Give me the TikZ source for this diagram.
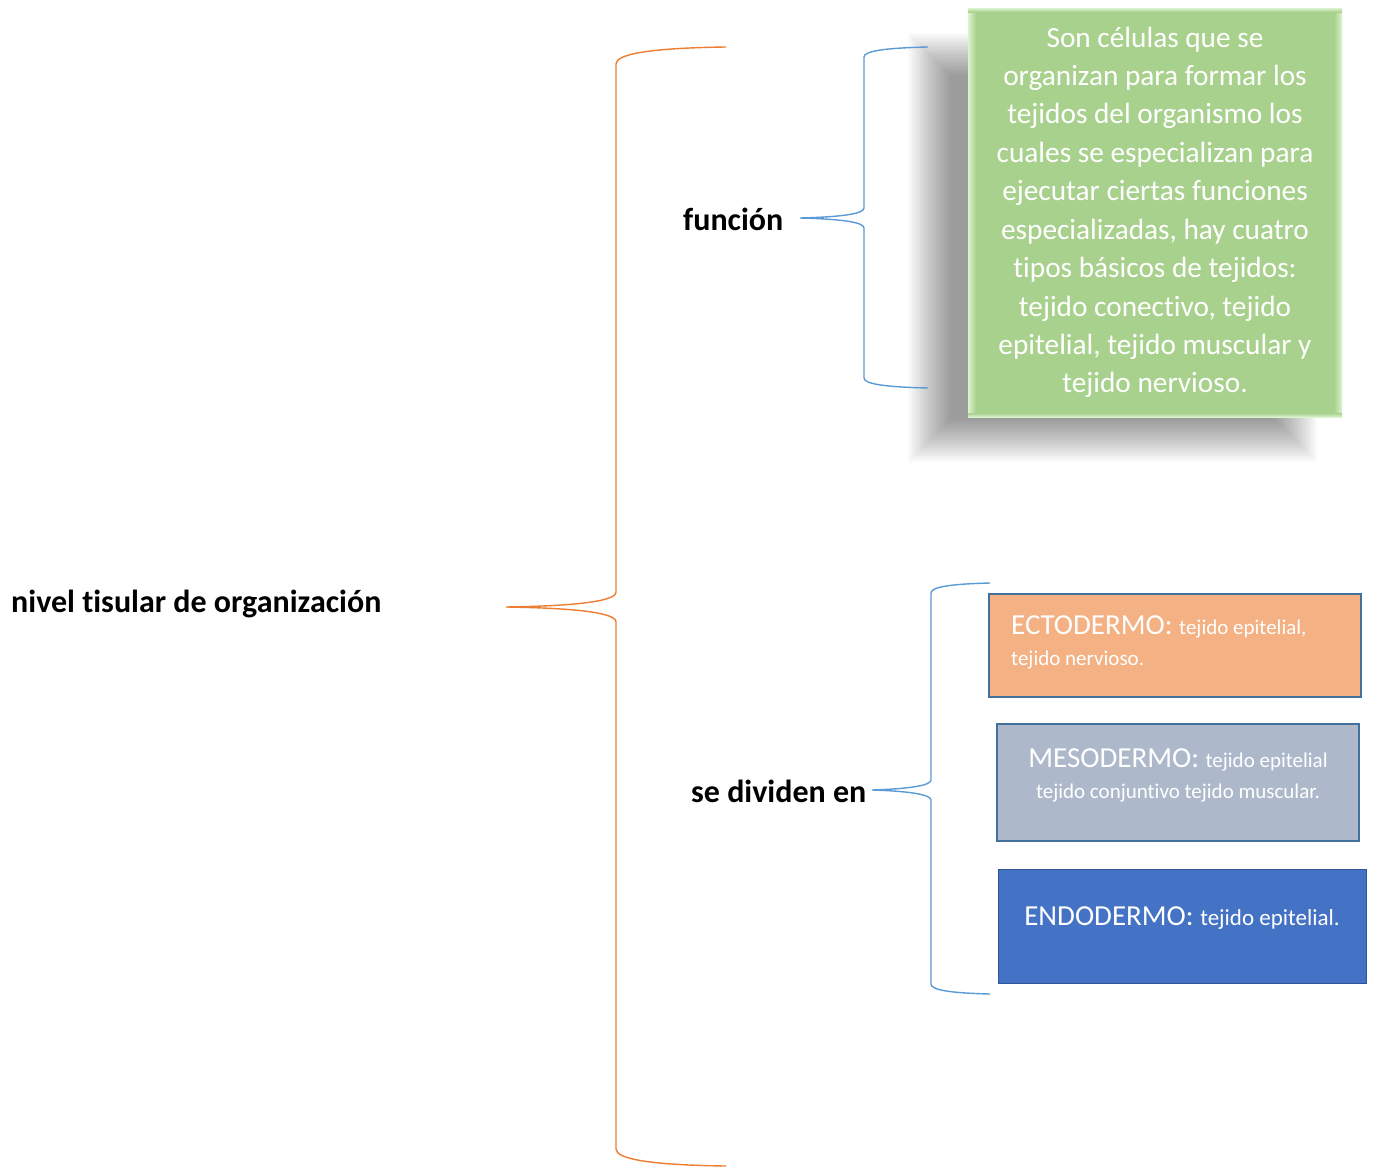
\documentclass[tikz,border=0pt]{standalone}
\usepackage{fontspec}
\setmainfont{Carlito}[Ligatures=NoCommon]
\definecolor{orangeB}{HTML}{ED7D31}
\definecolor{blueB}{HTML}{5B9BD5}
\definecolor{greenF}{HTML}{A9D18E}
\definecolor{greenL}{HTML}{DDF2CF}
\definecolor{ectoF}{HTML}{F4B183}
\definecolor{mesoF}{HTML}{ADB9CA}
\definecolor{endoF}{HTML}{4472C4}
\definecolor{boxB}{HTML}{41719C}
\definecolor{endoB}{HTML}{2F5597}
\tikzset{
  obrace/.style={draw=orangeB, line width=1.4pt},
  bbrace/.style={draw=blueB, line width=1.4pt},
  lbl/.style={inner sep=0pt, anchor=base west, font=\fontsize{32}{38}\selectfont\bfseries, text=black},
  gline/.style={inner sep=0pt, anchor=base, text=white, font=\fontsize{29.3}{38}\selectfont},
  tline/.style={inner sep=0pt, text=white},
  layerbox/.style={inner sep=0pt, line width=2.2pt, draw=boxB}
}
\newcommand{\bigtx}[1]{{\fontsize{29}{30}\selectfont #1}}
\newcommand{\smalltx}[1]{{\fontsize{21}{25}\selectfont #1}}
\newcommand{\midtx}[1]{{\fontsize{23}{27}\selectfont #1}}
\begin{document}
\begin{tikzpicture}[x=1pt,y=-1pt]
\useasboundingbox[fill=white] (0,0) rectangle (1375,1167);

% labels
\node[lbl] (nivel) at (11,612) {nivel tisular de organización};
\node[lbl] (funcion) at (683,230) {función};
\node[lbl] (divide) at (691,802) {se dividen en};

% soft shadow of green box
\foreach \k in {0,...,21}{
  \fill[black, opacity=0.018] (908+2*\k, 33+2*\k) rectangle (1317-2*\k, 462-2*\k);
}

% green box
\node[inner sep=0pt, minimum width=374pt, minimum height=409pt, fill=greenF] (fbox) at (1155,212.5) {};
\shade[left color=greenL, right color=greenF] (968,8) rectangle (976,417);
\shade[left color=greenF, right color=greenL] (1334,8) rectangle (1342,417);
\shade[top color=greenL, bottom color=greenF] (968,8) rectangle (1342,12);
\shade[top color=greenF, bottom color=greenL] (968,413) rectangle (1342,417);
\foreach \t [count=\i] in {{Son células que se},{organizan para formar los},{tejidos del organismo los},{cuales se especializan para},{ejecutar ciertas funciones},{especializadas, hay cuatro},{tipos básicos de tejidos:},{tejido conectivo, tejido},{epitelial, tejido muscular y},{tejido nervioso.}}{
  \node[gline] (g\i) at (1155, 47+38.44*\i-38.44) {\t};
}

% layer boxes
\node[layerbox, fill=ectoF, minimum width=372pt, minimum height=103pt] (ectoBox) at (1175,645.5) {};
\node[layerbox, fill=mesoF, minimum width=362pt, minimum height=117pt] (mesoBox) at (1178,782.5) {};
\node[layerbox, fill=endoF, draw=endoB, line width=1.5pt, minimum width=368pt, minimum height=114pt] (endoBox) at (1182.5,926.5) {};

\node[tline, anchor=base west] (ecto1) at (1011,634) {\bigtx{ECTODERMO: }\smalltx{tejido epitelial,}};
\node[tline, anchor=base west] (ecto2) at (1011,665) {\smalltx{tejido nervioso.}};
\node[tline, anchor=base] (meso1) at (1178,767) {\bigtx{MESODERMO: }\smalltx{tejido epitelial}};
\node[tline, anchor=base] (meso2) at (1178,798) {\smalltx{tejido conjuntivo tejido muscular.}};
\node[tline, anchor=base] (endo1) at (1182,925) {\bigtx{ENDODERMO: }\midtx{tejido epitelial.}};

% braces
\coordinate (oT) at (726,47);
\coordinate (oTip) at (506,607);
\coordinate (oB) at (726,1166);
\draw[obrace] (oT) .. controls (650,48) and (616,54) .. (616,64) -- (616,592)
  .. controls (616,602) and (570,606) .. (oTip)
  .. controls (570,608) and (616,612) .. (616,622) -- (616,1149)
  .. controls (616,1159) and (650,1165) .. (oB);

\coordinate (b1T) at (928,47);
\coordinate (b1Tip) at (800,218);
\coordinate (b1B) at (928,388);
\draw[bbrace] (b1T) .. controls (885,48) and (864,51) .. (864,57) -- (864,208)
  .. controls (864,214) and (840,217) .. (b1Tip)
  .. controls (840,219) and (864,222) .. (864,228) -- (864,378)
  .. controls (864,384) and (885,387) .. (b1B);

\coordinate (b2T) at (990,583);
\coordinate (b2Tip) at (872,790);
\coordinate (b2B) at (990,994);
\draw[bbrace] (b2T) .. controls (950,584) and (931,587) .. (931,593) -- (931,780)
  .. controls (931,786) and (905,789) .. (b2Tip)
  .. controls (905,791) and (931,794) .. (931,800) -- (931,984)
  .. controls (931,990) and (950,993) .. (b2B);
\end{tikzpicture}
\end{document}
